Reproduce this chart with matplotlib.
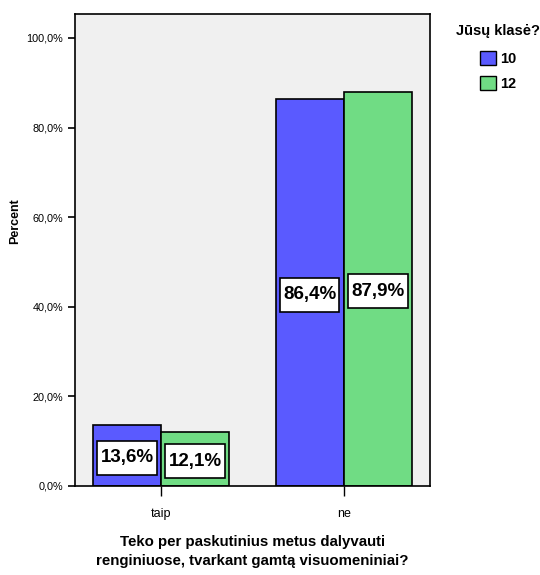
import numpy as np
import matplotlib
matplotlib.use("Agg")
import matplotlib.pyplot as plt
from matplotlib.patches import Patch
from matplotlib.path import Path

plt.rcParams['font.family'] = ['Liberation Sans', 'DejaVu Sans']

# Data
categories = ["taip", "ne"]
groups = ["10", "12"]
values_10 = [13.6, 86.4]
values_12 = [12.1, 87.9]
colors = ["#5a5aff", "#70dc84"]
y_ticks = [0, 20, 40, 60, 80, 100]


# label box a bit taller than wide padding, like the SPSS value labels
def tall_box(x0, y0, width, height, mutation_size):
    px = 0.16 * mutation_size
    py = 0.45 * mutation_size
    x0, y0 = x0 - px, y0 - py
    x1, y1 = x0 + width + 2 * px, y0 + height + 2 * py
    return Path([(x0, y0), (x1, y0), (x1, y1), (x0, y1), (x0, y0)], closed=True)


fig = plt.figure(figsize=(5.4, 5.75), dpi=100)
ax = fig.add_axes([0.139, 0.155, 0.657, 0.821])
ax.set_facecolor("#f0f0f0")

x = np.arange(len(categories))
width = 0.372
series = [values_10, values_12]
for i, vals in enumerate(series):
    offs = (i - 0.5) * width
    bars = ax.bar(x + offs, vals, width, color=colors[i], edgecolor="black", linewidth=1.2, zorder=2)
    for b, v in zip(bars, vals):
        ax.text(b.get_x() + b.get_width() / 2, v / 2 - 0.5, f"{v:.1f}%".replace(".", ","),
                ha="center", va="center", fontsize=13.5, fontweight="bold",
                bbox=dict(boxstyle=tall_box, facecolor="white", edgecolor="black", linewidth=1.2),
                zorder=3)

ax.set_xlim(-0.47, 1.47)
ax.set_ylim(0, 105.4)
ax.set_yticks(y_ticks)
ax.set_yticklabels([f"{t:.1f}%".replace(".", ",") for t in y_ticks], fontsize=7.8)
ax.set_xticks(x)
ax.set_xticklabels(categories, fontsize=9)
ax.tick_params(axis="y", length=5, width=1.2)
ax.tick_params(axis="x", length=7, width=1.0, pad=9)
for s in ax.spines.values():
    s.set_linewidth(1.2)

ax.set_ylabel("Percent", fontsize=9, fontweight="bold")
ax.yaxis.set_label_coords(-0.152, 0.56)
ax.set_xlabel("Teko per paskutinius metus dalyvauti\nrenginiuose, tvarkant gamtą visuomeniniai?",
              fontsize=10.8, fontweight="bold", labelpad=11, linespacing=1.45)

handles = [Patch(facecolor=c, edgecolor="black", linewidth=1.0) for c in colors]
leg = fig.legend(handles, groups, title="Jūsų klasė?", loc="upper right",
                 bbox_to_anchor=(1.0, 0.958), frameon=False, borderpad=0.0, borderaxespad=0.0,
                 prop={"weight": "bold", "size": 10.5}, title_fontproperties={"weight": "bold", "size": 10.5},
                 handlelength=1.1, handleheight=1.1, handletextpad=0.3, labelspacing=0.7)
leg._legend_box.align = "center"
leg._legend_box.sep = 9

fig.savefig("out.png", dpi=100)
